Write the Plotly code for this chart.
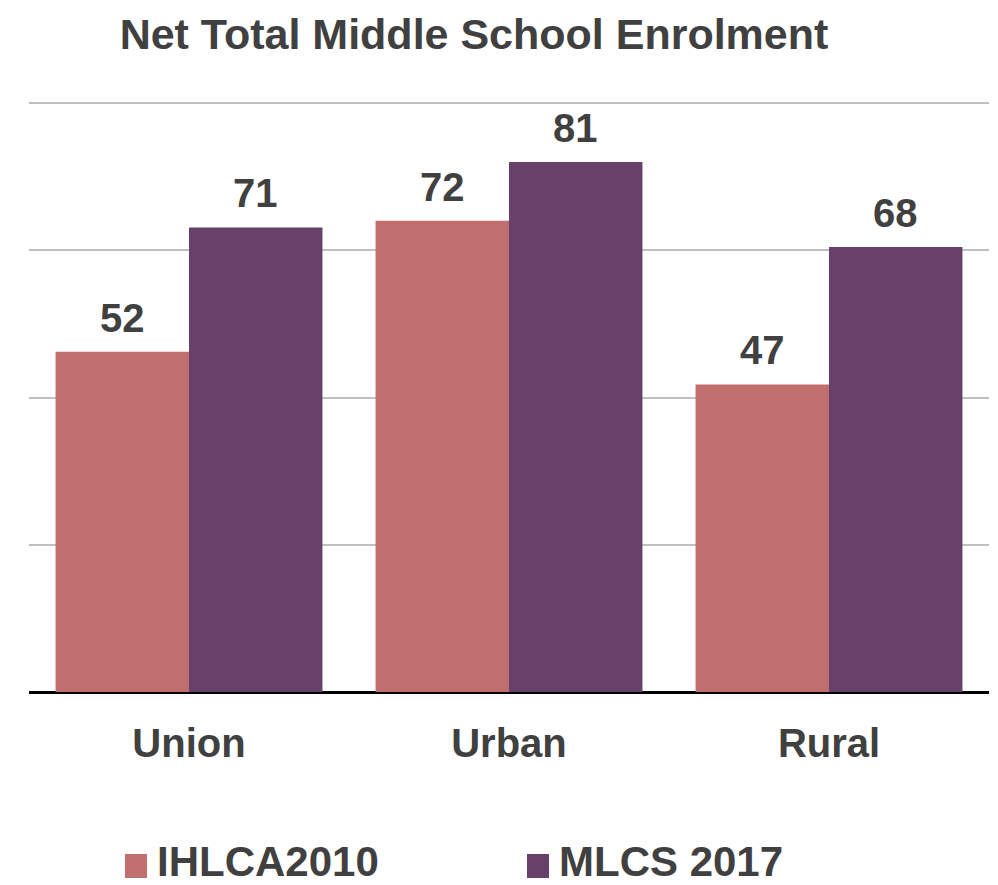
import plotly.graph_objects as go

categories = ["Union", "Urban", "Rural"]
series_names = ["IHLCA2010", "MLCS 2017"]
ihlca2010 = [52, 72, 47]
mlcs2017 = [71, 81, 68]
colors = ["#C06E6E", "#67416A"]
text_color = "#404040"
font_family = "Liberation Sans, Arial, sans-serif"

W, H = 998, 885
ml, mr, mt, mb = 29, 9, 90, 193
plot_h = H - mt - mb
plot_w = W - ml - mr
bargap = 0.166
cat_px = plot_w / len(categories)
bar_px = cat_px * (1 - bargap) / 2

fig = go.Figure()
all_series = [ihlca2010, mlcs2017]
for name, vals, col in zip(series_names, all_series, colors):
    fig.add_trace(go.Bar(x=categories, y=vals, name=name, marker=dict(color=col, line=dict(width=0)),
                         showlegend=False))

annotations = []
for i, vals in enumerate(all_series):
    shift = (i - 0.5) * bar_px
    for c, v in zip(categories, vals):
        annotations.append(dict(x=c, y=v, xref="x", yref="y", text=f"<b>{v}</b>", showarrow=False,
                                xshift=shift, yshift=34, yanchor="middle",
                                font=dict(size=40, color=text_color, family=font_family)))

# manual legend
leg_y_px = 861
leg_items = [(125, 147), (527, 549)]
shapes = []
for (x0, x1), name, col in zip(leg_items, series_names, colors):
    shapes.append(dict(type="rect", xref="paper", yref="paper",
                       x0=(x0 - ml) / plot_w, x1=(x1 - ml) / plot_w,
                       y0=(H - mb - 878) / plot_h,
                       y1=(H - mb - 854) / plot_h,
                       fillcolor=col, line=dict(width=0)))
    annotations.append(dict(x=(x1 + 9 - ml) / plot_w, y=(H - mb - leg_y_px) / plot_h, xref="paper", yref="paper",
                            text=f"<b>{name}</b>", showarrow=False, xanchor="left", yanchor="middle",
                            borderpad=0,
                            font=dict(size=42, color=text_color, family=font_family)))

fig.update_layout(
    width=W, height=H,
    margin=dict(l=ml, r=mr, t=mt, b=mb),
    paper_bgcolor="white", plot_bgcolor="white",
    barmode="group", bargap=bargap, bargroupgap=0,
    title=dict(text="<b>Net Total Middle School Enrolment</b>", x=474 / W, xanchor="center",
               y=1 - 34 / H, yanchor="middle",
               font=dict(size=43, color=text_color, family=font_family)),
    xaxis=dict(showgrid=False, showline=False, zeroline=False, ticks="",
               tickfont=dict(size=40, color=text_color, family=font_family, weight="bold"),
               ticklabelstandoff=24),
    yaxis=dict(range=[0, 92], tickvals=[0, 22.5, 45, 67.5, 90], showticklabels=False, showgrid=True,
               gridcolor="#BFBFBF", gridwidth=2, zeroline=True, zerolinecolor="#000000",
               zerolinewidth=3, showline=False),
    shapes=shapes,
    annotations=annotations,
    showlegend=False,
)

fig.write_html("out.html")
